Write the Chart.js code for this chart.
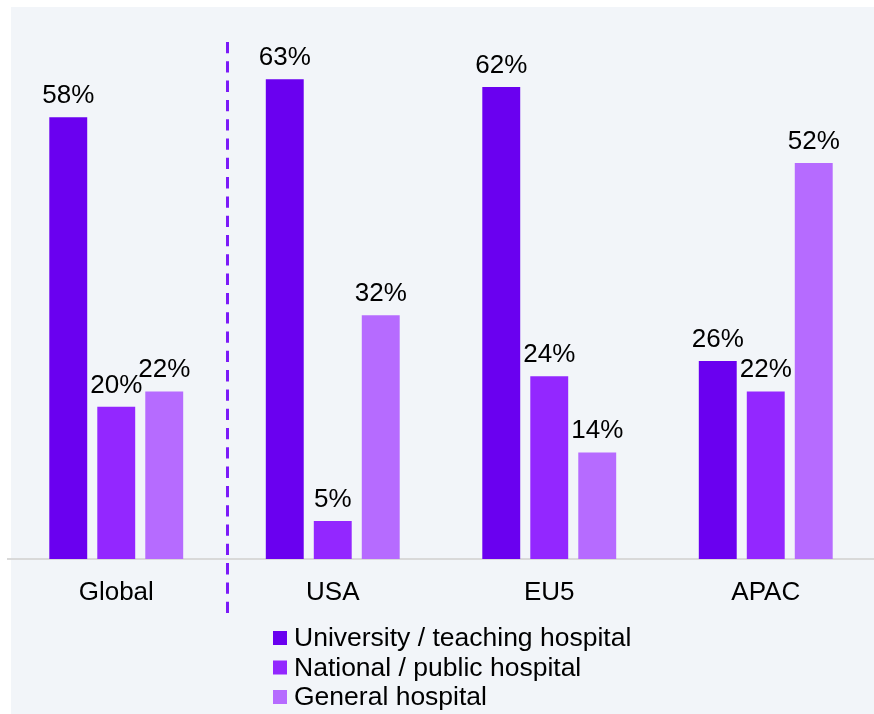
<!DOCTYPE html>
<html>
<head>
<meta charset="utf-8">
<script src="https://cdn.jsdelivr.net/npm/chart.js@4/dist/chart.umd.min.js"></script>
<style>
  html, body { margin: 0; padding: 0; background: #ffffff; }
  #wrap { width: 874px; height: 714px; position: relative; }
</style>
</head>
<body>
<div id="wrap"><canvas id="c" width="874" height="714"></canvas></div>
<script>
// Hospital type share by region (%)
const regions = ['Global', 'USA', 'EU5', 'APAC'];
const seriesNames = ['University / teaching hospital', 'National / public hospital', 'General hospital'];
const universityTeaching = [58, 63, 62, 26];
const nationalPublic = [20, 5, 24, 22];
const generalHospital = [22, 32, 14, 52];
const seriesColors = ['#6a00f0', '#9327ff', '#b66bff'];

const FONT = '"Liberation Sans", Arial, sans-serif';

// Light panel behind the whole chart
const panelPlugin = {
  id: 'panel',
  beforeDraw(chart) {
    const ctx = chart.ctx;
    ctx.save();
    ctx.fillStyle = '#f2f5f9';
    ctx.fillRect(11, 7, chart.width - 11, chart.height - 7);
    ctx.restore();
  }
};

// Percent labels above each bar
const valueLabelPlugin = {
  id: 'valueLabels',
  afterDatasetsDraw(chart) {
    const ctx = chart.ctx;
    ctx.save();
    ctx.font = '26px ' + FONT;
    ctx.fillStyle = '#000000';
    ctx.textAlign = 'center';
    ctx.textBaseline = 'alphabetic';
    chart.data.datasets.forEach((ds, di) => {
      chart.getDatasetMeta(di).data.forEach((bar, i) => {
        ctx.fillText(ds.data[i] + '%', bar.x, bar.y - 14);
      });
    });
    ctx.restore();
  }
};

// Dashed divider separating the global total from the regions
const dividerPlugin = {
  id: 'divider',
  afterDraw(chart) {
    const x = chart.scales.x.getPixelForValue(0.5) + 3;
    const area = chart.chartArea;
    const ctx = chart.ctx;
    ctx.save();
    ctx.strokeStyle = '#7b1af8';
    ctx.lineWidth = 3;
    ctx.setLineDash([11.3, 8]);
    ctx.beginPath();
    ctx.moveTo(x, area.top + 16);
    ctx.lineTo(x, area.bottom + 54);
    ctx.stroke();
    ctx.restore();
  }
};

// Stacked legend under the axis
const stackedLegendPlugin = {
  id: 'stackedLegend',
  afterDraw(chart) {
    const ctx = chart.ctx;
    const area = chart.chartArea;
    const left = area.left + 265;
    const firstRow = area.bottom + 79;
    const rowGap = 29.5;
    ctx.save();
    ctx.font = '26.5px ' + FONT;
    ctx.textBaseline = 'middle';
    ctx.textAlign = 'left';
    chart.data.datasets.forEach((ds, i) => {
      const cy = firstRow + i * rowGap;
      ctx.fillStyle = ds.backgroundColor;
      ctx.fillRect(left, cy - 7, 14, 14);
      ctx.fillStyle = '#000000';
      ctx.fillText(ds.label, left + 21, cy + 1);
    });
    ctx.restore();
  }
};

const valueSeries = [universityTeaching, nationalPublic, generalHospital];

new Chart(document.getElementById('c'), {
  type: 'bar',
  data: {
    labels: regions,
    datasets: seriesNames.map((name, i) => ({
      label: name,
      data: valueSeries[i],
      backgroundColor: seriesColors[i],
      borderWidth: 0,
      barPercentage: 0.79,
      categoryPercentage: 0.665
    }))
  },
  options: {
    responsive: false,
    animation: false,
    layout: { padding: { left: 8, right: 0, top: 26, bottom: 100 } },
    plugins: {
      legend: { display: false },
      tooltip: { enabled: false }
    },
    scales: {
      x: {
        grid: { display: false, drawTicks: false },
        border: { display: true, color: '#d9d9d9', width: 2 },
        ticks: {
          color: '#000000',
          padding: 18,
          font: { family: FONT, size: 26 }
        },
        afterFit(scale) { scale.height = 55; }
      },
      y: {
        display: false,
        min: 0,
        max: 70
      }
    }
  },
  plugins: [panelPlugin, valueLabelPlugin, dividerPlugin, stackedLegendPlugin]
});
</script>
</body>
</html>
